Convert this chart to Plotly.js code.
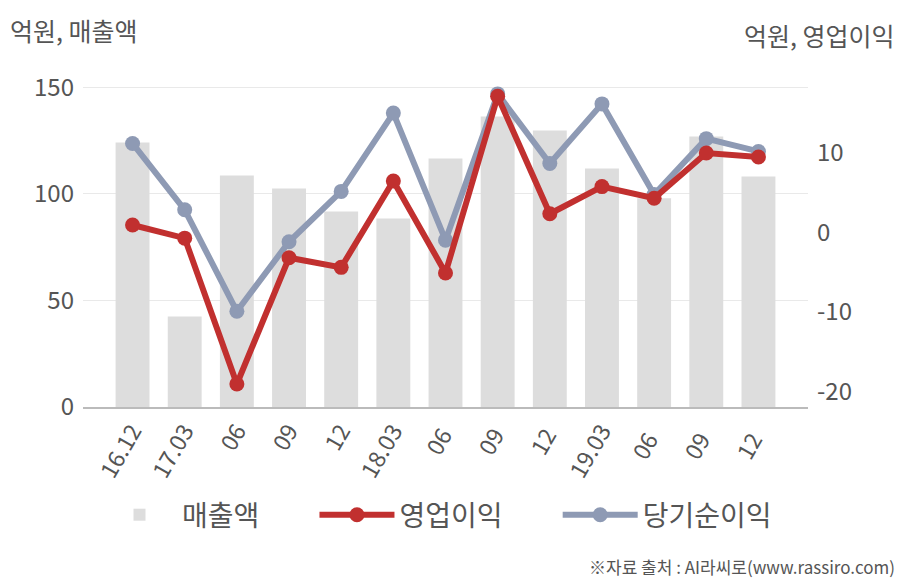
<!DOCTYPE html>
<html>
<head>
<meta charset="utf-8">
<script src="https://cdn.plot.ly/plotly-3.0.1.min.js"></script>
<style>html,body{margin:0;padding:0;background:#fff;}#chart{width:908px;height:580px;}</style>
</head>
<body>
<div id="chart"></div>
<script>
const categories = ["16.12","17.03","06","09","12","18.03","06 ","09 ","12 ","19.03","06  ","09  ","12  "];
const sales = [124.1, 42.5, 108.6, 102.5, 91.7, 88.4, 116.6, 136.3, 129.7, 111.9, 98, 126.9, 108.2];
const operatingProfit = [0.9, -0.75, -19.0, -3.2, -4.4, 6.4, -5.1, 17.0, 2.3, 5.7, 4.25, 9.9, 9.4];
const netProfit = [11.1, 2.8, -9.9, -1.2, 5.1, 14.9, -1.0, 17.3, 8.6, 16.05, 4.7, 11.7, 10.1];
const leftTicks = [0, 50, 100, 150];
const rightTicks = [-20, -10, 0, 10];
const rightTickText = ["-20", "-10", "0", "10"];
const seriesNames = ["매출액", "영업이익", "당기순이익"];

const NB = '\u00a0';
const FONT = "'Noto Sans CJK KR', 'Noto Sans', sans-serif";
const traces = [
  {type:'bar', x:categories, y:sales, name:seriesNames[0] + NB.repeat(8), marker:{color:'#dddddd'}, width:0.65, yaxis:'y', legendrank:1},
  {type:'scatter', mode:'lines+markers', x:categories, y:netProfit, name:seriesNames[2], yaxis:'y2', legendrank:3,
   line:{color:'#8e9ab4', width:6}, marker:{color:'#8e9ab4', size:15}},
  {type:'scatter', mode:'lines+markers', x:categories, y:operatingProfit, name:seriesNames[1] + NB.repeat(8), yaxis:'y2', legendrank:2,
   line:{color:'#c1302f', width:6}, marker:{color:'#c1302f', size:15}}
];
const layout = {
  width:908, height:580,
  margin:{l:83, r:100, t:66, b:173},
  paper_bgcolor:'#fff', plot_bgcolor:'#fff',
  font:{family:FONT, color:'#555', size:24},
  showlegend:true,
  xaxis:{type:'category', range:[-0.95,12.95], tickangle:-60, showgrid:false, showline:true, linecolor:'#bbbbbb', linewidth:1.5,
         ticks:'', tickfont:{size:23, color:'#555'}, fixedrange:true},
  yaxis:{range:[0,160], tickvals:leftTicks, showgrid:true, gridcolor:'#e9e9e9', gridwidth:1, zeroline:false,
         showline:false, ticks:'', tickfont:{size:24, color:'#555'}, ticklabelstandoff:8},
  yaxis2:{overlaying:'y', side:'right', range:[-21.875, 20.79], tickvals:rightTicks, ticktext:rightTickText, showgrid:false, zeroline:false,
          showline:false, ticks:'', tickfont:{size:24, color:'#555'}, ticklabelstandoff:8},
  legend:{orientation:'h', xref:'container', yref:'container', x:97/908, xanchor:'left', y:1-515/580, yanchor:'middle', font:{size:28, color:'#555'},
          itemwidth:75, tracegroupgap:0},
  annotations:[
    {text:'억원, 매출액', xref:'paper', yref:'paper', x:(8-83)/725, xanchor:'left', y:(407-30)/341, yanchor:'middle', showarrow:false, font:{size:25, color:'#555'}},
    {text:'억원, 영업이익', xref:'paper', yref:'paper', x:(897-83)/725, xanchor:'right', y:(407-35)/341, yanchor:'middle', showarrow:false, font:{size:25, color:'#555'}},
    {text:'※자료 출처 : AI라씨로(www.rassiro.com)', xref:'paper', yref:'paper', x:(897-83)/725, xanchor:'right', y:(407-566)/341, yanchor:'middle', showarrow:false, font:{size:17, color:'#555'}}
  ]
};
Plotly.newPlot('chart', traces, layout, {displayModeBar:false, staticPlot:true});
</script>
</body>
</html>
